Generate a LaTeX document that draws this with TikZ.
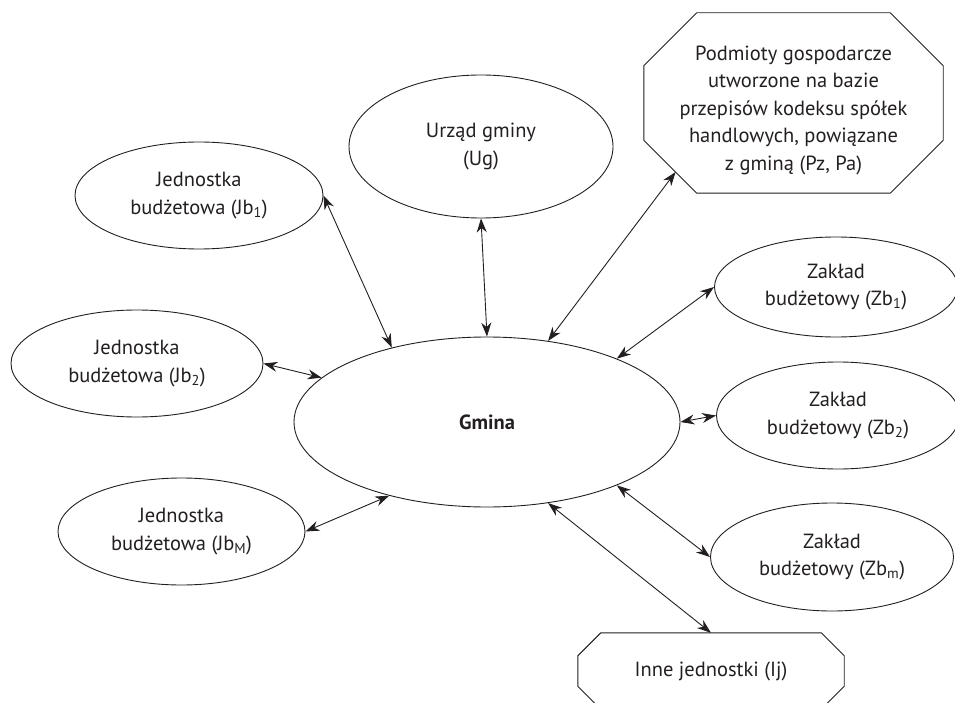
\documentclass[tikz,border=0pt]{standalone}
\usepackage{fontspec}
\setmainfont{PT Sans}
\usetikzlibrary{shapes.geometric, arrows.meta}
\definecolor{cInk}{RGB}{35,31,32}
% octagon round a rectangular node: #1 node, #2 chamfer
\newcommand{\ramka}[2]{%
	\draw[line width=0.9pt] ([xshift=#2]#1.north west) -- ([xshift=-#2]#1.north east) -- ([yshift=-#2]#1.north east)
		-- ([yshift=#2]#1.south east) -- ([xshift=-#2]#1.south east) -- ([xshift=#2]#1.south west)
		-- ([yshift=#2]#1.south west) -- ([yshift=-#2]#1.north west) -- cycle;}

\begin{document}
\begin{tikzpicture}[x=1pt, y=-1pt, font=\fontsize{20.5}{27.5}\selectfont, color=cInk,
	unit/.style={ellipse, draw, line width=0.9pt, align=center, inner sep=0pt},
	octa/.style={rectangle, align=center, inner sep=0pt},
	link/.style={{Stealth[length=14pt,width=10pt]}-{Stealth[length=14pt,width=10pt]}, line width=0.9pt}]
	\useasboundingbox (0,0) rectangle (955,703);
	% centre
	\node[unit, minimum width=386pt, minimum height=170pt] (gmina) at (487,422) {\textbf{Gmina}};
	\node[unit, minimum width=264pt, minimum height=143pt] (ug) at (481,146.5) {Urząd gminy\\(Ug)};
	% jednostki budzetowe
	\foreach \n/\x/\y/\w/\s in {1/199/195.5/248/1, 2/137/363.5/252/2, m/181.5/531.5/247/M} {
		\node[unit, minimum width=\w pt, minimum height=107pt] (jb\n) at (\x,\y) {Jednostka\\budżetowa (Jb\textsubscript{\s})};
	}
	% zaklady budzetowe
	\foreach \n/\x/\y/\h in {1/836/287/100, 2/838/415.5/107, m/832/557/108} {
		\node[unit, minimum width=243pt, minimum height=\h pt] (zb\n) at (\x,\y) {Zakład\\budżetowy (Zb\textsubscript{\n})};
	}
	\node[octa, minimum width=299pt, minimum height=180pt] (pz) at (793.5,103) {\rule{0pt}{29pt}Podmioty gospodarcze\\utworzone na bazie\\przepisów kodeksu spółek\\handlowych, powiązane\\z gminą (Pz, Pa)};
	\ramka{pz}{53pt}
	\path ([yshift=53pt]pz.south west) -- coordinate[pos=0.6] (pzend) ([xshift=53pt]pz.south west);
	\node[octa, minimum width=266pt, minimum height=76pt] (ij) at (711,671) {Inne jednostki (Ij)};
	\ramka{ij}{23pt}
	% powiazania
	\draw[link] (jb1.east) -- (gmina.142);
	\draw[link] (jb2.east) -- (gmina.165);
	\draw[link] (jbm.east) -- (gmina.217);
	\draw[link] (ug.south) -- (gmina.north);
	\draw[link] (pzend) -- (gmina.53);
	\draw[link] (zb1.west) -- (gmina.26);
	\draw[link] (zb2.west) -- (gmina.east);
	\draw[link] (zbm.west) -- (gmina.-26);
	\draw[link] (ij.north) -- (gmina.-53);
\end{tikzpicture}
\end{document}
